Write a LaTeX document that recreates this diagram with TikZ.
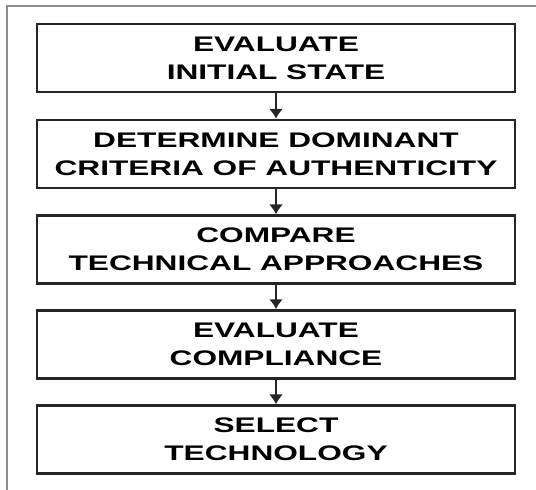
\documentclass[tikz,border=0pt]{standalone}
\usepackage{fontspec}
\usetikzlibrary{arrows.meta}
\newfontfamily\boxfont{Liberation Sans}[FakeStretch=1.5]
\tikzset{
	stepbox/.style={draw=black!85, line width=1.8pt, minimum width=11.95cm, minimum height=1.7cm,
		align=center, inner sep=0pt, font=\boxfont\bfseries\fontsize{15}{20}\selectfont},
	flow/.style={-{Latex[length=7pt,width=10pt]}, line width=1.6pt, black!85}
}
\begin{document}
\begin{tikzpicture}
	\useasboundingbox (0,0) rectangle (13.4,12.25);
	\draw[black!45, line width=1pt] (0.175,0)--(0.175,12.1)--(13.4,12.1);
	\node[stepbox] (eval) at (6.9,10.8) {EVALUATE\\INITIAL STATE};
	\node[stepbox] (crit) at (6.9,8.4) {DETERMINE DOMINANT\\CRITERIA OF AUTHENTICITY};
	\node[stepbox] (comp) at (6.9,6.01) {COMPARE\\TECHNICAL APPROACHES};
	\node[stepbox] (compl) at (6.9,3.64) {EVALUATE\\COMPLIANCE};
	\node[stepbox] (sel) at (6.9,1.26) {SELECT\\TECHNOLOGY};
	\draw[flow] (eval)--(crit);
	\draw[flow] (crit)--(comp);
	\draw[flow] (comp)--(compl);
	\draw[flow] (compl)--(sel);
\end{tikzpicture}
\end{document}
